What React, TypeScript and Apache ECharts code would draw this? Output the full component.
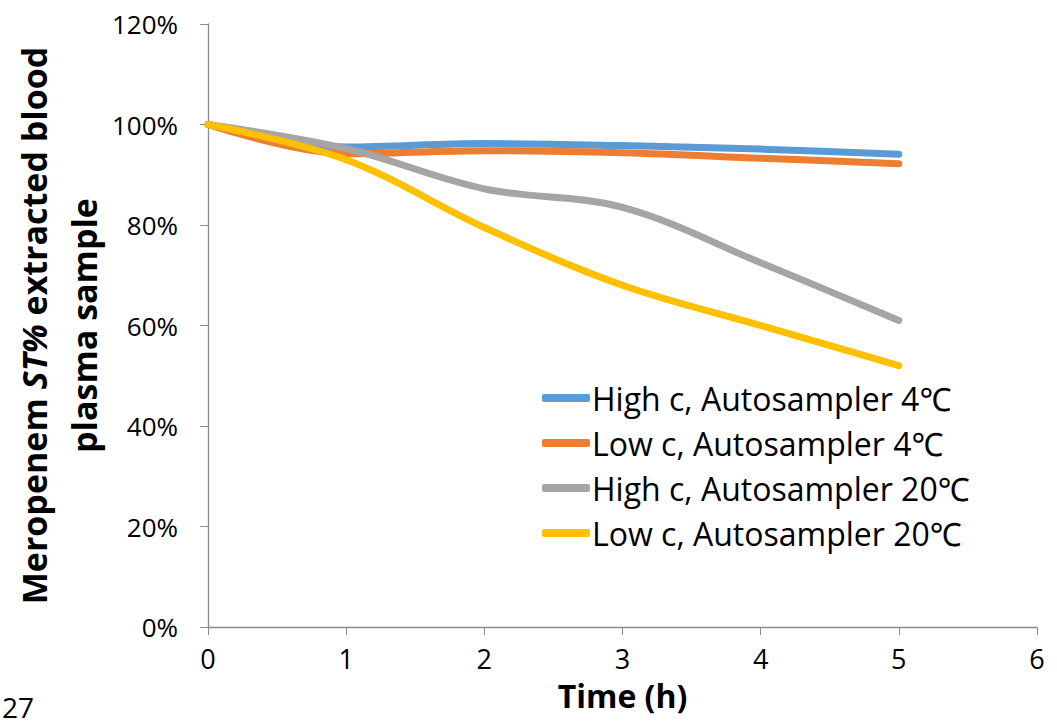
import React, { useEffect, useRef } from "react";
import * as echarts from "echarts";

const times = [0, 1, 2, 3, 4, 5];
const seriesNames = [
  "High c, Autosampler 4℃",
  "Low c, Autosampler 4℃",
  "High c, Autosampler 20℃",
  "Low c, Autosampler 20℃",
];
const highC4 = [100, 95.5, 96.2, 95.8, 95.1, 94.1];
const lowC4 = [100, 94.2, 94.8, 94.4, 93.3, 92.2];
const highC20 = [100, 95.2, 87.2, 83.5, 72.5, 61];
const lowC20 = [100, 93, 79.5, 68, 60, 52];
const colors = ["#5B9BD5", "#ED7D31", "#A5A5A5", "#FFC000"];
const yTicks = [0, 20, 40, 60, 80, 100, 120];

const App: React.FC = () => {
  const ref = useRef<HTMLDivElement>(null);
  useEffect(() => {
    if (!ref.current) return;
    const chart = echarts.init(ref.current, undefined, { renderer: "svg" });
    const all = [highC4, lowC4, highC20, lowC20];
    const axisColor = "#8C8C8C";
    const font = "'Open Sans', 'Noto Sans', sans-serif";
    chart.setOption({
      animation: false,
      backgroundColor: "#ffffff",
      grid: { left: 208, right: 20, top: 24, bottom: 94, containLabel: false, outerBoundsMode: "none" },
      legend: {
        orient: "vertical",
        left: 537,
        top: 375,
        icon: "roundRect",
        itemWidth: 48,
        itemHeight: 8,
        itemGap: 9,
        textStyle: { fontFamily: font, fontSize: 32, color: "#000", lineHeight: 36, padding: [0, 0, 0, -3] },
        data: seriesNames,
      },
      graphic: [
        {
          type: "text",
          left: 2,
          bottom: 0,
          style: { text: "27", fontFamily: font, fontSize: 28, lineHeight: 26, fill: "#000" },
        },
      ],
      xAxis: {
        type: "value",
        min: 0,
        max: 6,
        interval: 1,
        name: "Time (h)",
        nameLocation: "middle",
        nameGap: 52,
        nameTextStyle: { fontFamily: font, fontSize: 32, fontWeight: "bold", color: "#000" },
        axisLine: { show: true, lineStyle: { color: axisColor, width: 1.3 } },
        axisTick: { show: true, length: 8, lineStyle: { color: axisColor } },
        axisLabel: { fontFamily: font, fontSize: 27, color: "#000", margin: 18 },
        splitLine: { show: false },
      },
      yAxis: {
        type: "value",
        min: yTicks[0],
        max: yTicks[yTicks.length - 1],
        interval: 20,
        name: "{b|Meropenem }{bi|ST%}{b| extracted blood}\n{b|plasma sample}",
        nameLocation: "middle",
        nameRotate: 90,
        nameGap: 80,
        nameTextStyle: {
          rich: {
            b: { fontFamily: font, fontSize: 34, fontWeight: "bold", color: "#000", lineHeight: 50 },
            bi: { fontFamily: font, fontSize: 34, fontWeight: "bold", fontStyle: "italic", color: "#000", lineHeight: 50 },
          },
        },
        axisLine: { show: true, lineStyle: { color: axisColor, width: 1.3 } },
        axisTick: { show: true, length: 8, lineStyle: { color: axisColor } },
        axisLabel: {
          fontFamily: font,
          fontSize: 26,
          color: "#000",
          margin: 30,
          formatter: (v: number) => `${v}%`,
        },
        splitLine: { show: false },
      },
      series: all.map((vals, i) => ({
        name: seriesNames[i],
        type: "line",
        data: times.map((t, j) => [t, vals[j]]),
        smooth: 0.35,
        showSymbol: false,
        symbol: "none",
        color: colors[i],
        lineStyle: { color: colors[i], width: 7, cap: "round", join: "round" },
        z: 2 + i,
      })),
    });
    return () => chart.dispose();
  }, []);
  return (
    <div
      ref={ref}
      style={{ position: "fixed", left: 0, top: 0, width: 1057, height: 721 }}
    />
  );
};

export default App;
